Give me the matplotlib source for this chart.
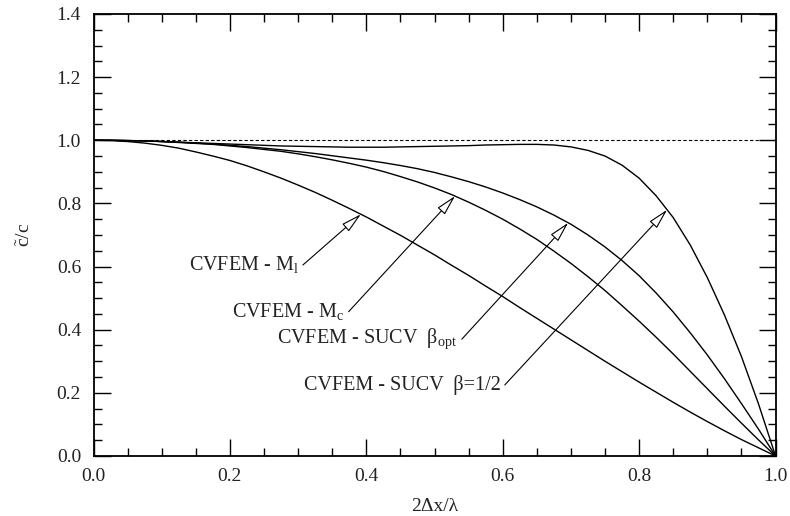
import numpy as np
import matplotlib
matplotlib.use("Agg")
import matplotlib.pyplot as plt
from matplotlib.ticker import MultipleLocator

plt.rcParams['font.family'] = ['Liberation Serif', 'DejaVu Serif']
plt.rcParams['mathtext.fontset'] = 'custom'
plt.rcParams['mathtext.rm'] = 'Liberation Serif'
plt.rcParams['mathtext.it'] = 'Liberation Serif:italic'
plt.rcParams['font.size'] = 14

# dimensionless wavenumber 2dx/lambda
X = [0.0, 0.025, 0.05, 0.075, 0.1, 0.125, 0.15, 0.175, 0.2, 0.225, 0.25,
     0.275, 0.3, 0.325, 0.35, 0.375, 0.4, 0.425, 0.45, 0.475, 0.5,
     0.525, 0.55, 0.575, 0.6, 0.625, 0.65, 0.675, 0.7, 0.725, 0.75,
     0.775, 0.8, 0.825, 0.85, 0.875, 0.9, 0.925, 0.95, 0.975, 1.0]

# phase speed ratio c~/c for each scheme
M_LUMPED = [1.0, 0.999, 0.996, 0.991, 0.984, 0.975, 0.963, 0.950, 0.936, 0.919, 0.900,
            0.880, 0.858, 0.835, 0.810, 0.784, 0.757, 0.728, 0.699, 0.668, 0.637,
            0.604, 0.572, 0.538, 0.505, 0.470, 0.436, 0.402, 0.368, 0.334, 0.300,
            0.267, 0.234, 0.202, 0.170, 0.139, 0.109, 0.080, 0.052, 0.026, 0.0]
M_CONSISTENT = [1.0, 1.000, 0.999, 0.998, 0.996, 0.993, 0.990, 0.987, 0.982, 0.977, 0.971,
                0.965, 0.957, 0.948, 0.938, 0.927, 0.915, 0.901, 0.885, 0.868, 0.849,
                0.828, 0.804, 0.778, 0.750, 0.719, 0.686, 0.649, 0.610, 0.568, 0.524,
                0.476, 0.427, 0.376, 0.323, 0.268, 0.213, 0.158, 0.104, 0.051, 0.0]
SUCV_OPT = [1.0, 1.000, 0.999, 0.998, 0.996, 0.994, 0.991, 0.988, 0.984, 0.980, 0.975,
            0.970, 0.964, 0.958, 0.951, 0.944, 0.937, 0.929, 0.920, 0.910, 0.898,
            0.884, 0.869, 0.852, 0.833, 0.812, 0.789, 0.763, 0.734, 0.700, 0.662,
            0.619, 0.571, 0.516, 0.456, 0.390, 0.320, 0.245, 0.166, 0.085, 0.0]
SUCV_HALF = [1.0, 1.000, 0.999, 0.998, 0.996, 0.994, 0.992, 0.990, 0.988, 0.986, 0.984,
             0.982, 0.981, 0.980, 0.979, 0.978, 0.978, 0.978, 0.979, 0.980, 0.981,
             0.982, 0.983, 0.985, 0.986, 0.987, 0.987, 0.985, 0.979, 0.968, 0.950,
             0.921, 0.880, 0.824, 0.755, 0.668, 0.565, 0.447, 0.315, 0.165, 0.0]

LABELS = [r"CVFEM - M$_\mathrm{l}$", r"CVFEM - M$_\mathrm{c}$",
          r"CVFEM - SUCV  β$_\mathrm{opt}$", "CVFEM - SUCV  β=1/2"]
ARROW_X = [0.392, 0.530, 0.696, 0.841]
TEXT_XY = [(0.307, 0.605), (0.374, 0.457), (0.540, 0.370), (0.603, 0.225)]

fig = plt.figure(figsize=(7.9, 5.16), dpi=100)
ax = fig.add_axes([0.1184, 0.1163, 0.8633, 0.8566])

ax.axhline(1.0, color='black', lw=0.8, ls=(0, (3, 2)))

curves = [M_LUMPED, M_CONSISTENT, SUCV_OPT, SUCV_HALF]
for ys in curves:
    ax.plot(X, ys, color='black', lw=1.0)

for ys, label, ax_x, txy in zip(curves, LABELS, ARROW_X, TEXT_XY):
    tip = (ax_x, np.interp(ax_x, X, ys))
    ax.annotate("", xy=tip, xytext=txy,
                arrowprops=dict(arrowstyle='-|>,head_length=0.9,head_width=0.22',
                                fc='white', ec='black', lw=0.8,
                                shrinkA=0, shrinkB=0))
    ax.annotate(label, xy=txy, xytext=(-3, 0), textcoords='offset points',
                ha='right', va='center', fontsize=14.5, color='#222222')

ax.set_xlim(0, 1.0)
ax.set_ylim(0, 1.4)
ax.xaxis.set_major_locator(MultipleLocator(0.2))
ax.xaxis.set_minor_locator(MultipleLocator(0.05))
ax.yaxis.set_major_locator(MultipleLocator(0.2))
ax.yaxis.set_minor_locator(MultipleLocator(0.05))
ax.xaxis.set_major_formatter(lambda v, p: f"{v:.1f}")
ax.yaxis.set_major_formatter(lambda v, p: f"{v:.1f}")

ax.tick_params(which='both', direction='in', top=True, right=True, width=1.0,
               labelsize=14, labelcolor='#222222')
ax.tick_params(which='major', length=12)
ax.tick_params(which='minor', length=6)
ax.tick_params(axis='x', pad=9)
ax.tick_params(axis='y', pad=9)
for s in ax.spines.values():
    s.set_linewidth(1.3)

ax.set_xlabel("2Δx/λ", fontsize=14, labelpad=9, color='#222222')
ax.set_ylabel(r"$\tilde{\mathrm{c}}$/c", fontsize=14, labelpad=16, color='#222222')

fig.savefig("out.png", dpi=100)
